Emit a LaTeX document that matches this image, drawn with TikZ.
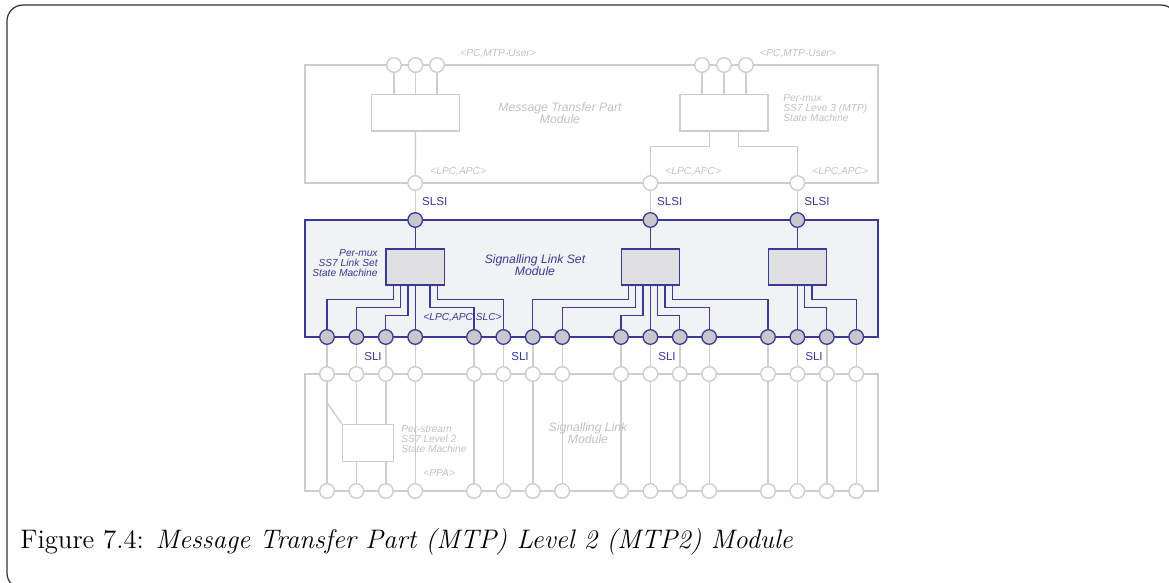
\documentclass[tikz,border=0pt]{standalone}
\usepackage{fontspec}
\usetikzlibrary{calc,positioning}
\newfontfamily\helv{Liberation Sans}

\definecolor{lgrey}{RGB}{206,206,206}
\definecolor{tgrey}{RGB}{194,194,194}
\definecolor{mblue}{RGB}{58,58,150}
\definecolor{mfill}{RGB}{241,242,244}
\definecolor{pfill}{RGB}{200,200,204}
\definecolor{bfill}{RGB}{224,224,226}

\tikzset{
    gline/.style={draw=lgrey, line width=0.7pt},
    bline/.style={draw=mblue, line width=0.65pt},
    gport/.style={circle, draw=lgrey, fill=white, line width=0.7pt, minimum size=7.3pt, inner sep=0pt},
    bport/.style={circle, draw=mblue, fill=pfill, line width=0.65pt, minimum size=7.3pt, inner sep=0pt},
    gbox/.style={draw=lgrey, fill=white, line width=0.7pt, inner sep=0pt},
    bbox/.style={draw=mblue, fill=bfill, line width=0.65pt, inner sep=0pt, minimum width=29.2pt, minimum height=17.9pt},
    glabel/.style={inner sep=0pt, text=tgrey, font=\helv\itshape\fontsize{5.1}{5}\selectfont},
    gtitle/.style={inner sep=0pt, text=tgrey, align=center, font=\helv\itshape\fontsize{6.1}{5.9}\selectfont},
    blabel/.style={inner sep=0pt, text=mblue, font=\helv\itshape\fontsize{5.1}{5}\selectfont},
    btitle/.style={inner sep=0pt, text=mblue, align=center, font=\helv\itshape\fontsize{6.1}{5.9}\selectfont},
    iface/.style={inner sep=0pt, text=mblue, font=\helv\fontsize{5.8}{6}\selectfont},
    capt/.style={inner sep=0pt, font=\fontsize{13.4}{15}\selectfont}
}

\begin{document}
\begin{tikzpicture}[x=0.5pt, y=-0.5pt]
    \def\u{29.4}
    \useasboundingbox (0,0) rectangle (1169,583);
    \draw[black!80, line width=0.6pt, rounded corners=8pt] (7,5) rectangle (1177,589);

    % MTP module
    \draw[gline] (305,65) rectangle (878,183);
    \foreach \i/\x in {1/394,2/415.5,3/437,4/702,5/724,6/746}
        \node[gport] (u\i) at (\x,65) {};
    \node[gbox, minimum width=44pt, minimum height=18.4pt] (mtpa) at (415.5,112.7) {};
    \node[gbox, minimum width=44pt, minimum height=18.4pt] (mtpb) at (724,112.7) {};
    \node[gport] (ma) at ({327+3*\u},183) {};
    \node[gport] (mb) at ({327+11*\u},183) {};
    \node[gport] (mc) at ({327+16*\u},183) {};
    \foreach \i in {1,2,3}
        \draw[gline] (u\i) -- (u\i |- mtpa.north);
    \foreach \i in {4,5,6}
        \draw[gline] (u\i) -- (u\i |- mtpb.north);
    \draw[gline] (mtpa) -- (ma);
    \draw[gline] ($(mtpb.south)+(-14.5,0)$) -- ++(0,14.7) -| (mb);
    \draw[gline] ($(mtpb.south)+(14.5,0)$) -- ++(0,14.7) -| (mc);

    \node[glabel, anchor=west] (pcu1) at (460,54) {<PC,MTP-User>};
    \node[glabel, anchor=west] (pcu2) at (760,54) {<PC,MTP-User>};
    \node[glabel, anchor=west] (lpc1) at (430,172) {<LPC,APC>};
    \node[glabel, anchor=west] (lpc2) at (665,172) {<LPC,APC>};
    \node[glabel, anchor=west] (lpc3) at (812,172) {<LPC,APC>};
    \node[gtitle] (mtpt) at (560,113) {Message Transfer Part\\Module};
    \node[glabel, anchor=west, align=left] (l3sm) at (783,108) {Per-mux\\SS7 Leve 3 (MTP)\\State Machine};

    % signalling link set module
    \draw[bline, fill=mfill] (305,220) rectangle (878,337);
    \node[bport] (s1) at ({327+3*\u},220) {};
    \node[bport] (s2) at ({327+11*\u},220) {};
    \node[bport] (s3) at ({327+16*\u},220) {};
    \draw[gline] (ma) -- (s1);
    \draw[gline] (mb) -- (s2);
    \draw[gline] (mc) -- (s3);
    \node[bbox] (lsa) at ({327+3*\u},267) {};
    \node[bbox] (lsb) at ({327+11*\u},267) {};
    \node[bbox] (lsc) at ({327+16*\u},267) {};
    \draw[bline] (s1) -- (lsa);
    \draw[bline] (s2) -- (lsb);
    \draw[bline] (s3) -- (lsc);
    \foreach \k in {0,1,2,3,5,6,7,8,10,11,12,13,15,16,17,18}
        \node[bport] (sl\k) at ({327+\k*\u},337) {};
    \foreach \b/\j/\k/\y in {lsa/-3/0/299.3, lsa/-2/1/307.3, lsa/-1/2/315, lsa/0/3/315,
                             lsa/2/5/307.3, lsa/3/6/299.3,
                             lsb/-3/7/299.3, lsb/-2/8/307.3, lsb/-1/10/315, lsb/0/11/315,
                             lsb/1/12/315, lsb/2/13/307.3, lsb/3/15/299.3,
                             lsc/0/16/315, lsc/1/17/307.3, lsc/2/18/299.3}
        \draw[bline] ($(\b.south)+(\j*7.35,0)$) -- ++(0,\y-285) -| (sl\k);

    \node[blabel, anchor=east, align=right] (lssm) at (378,262.7) {Per-mux\\SS7 Link Set\\State Machine};
    \node[btitle] (lst) at (535,265) {Signalling Link Set\\Module};
    \node[blabel, anchor=west] (slc) at (423,318) {<LPC,APC,SLC>};
    \foreach \i/\x in {1/421.7,2/656.7,3/804}
        \node[iface, anchor=west] (slsi\i) at (\x,202) {SLSI};
    \foreach \i/\x in {1/373,2/520,3/667,4/814}
        \node[iface] (sli\i) at (\x,356.7) {SLI};

    % signalling link module
    \draw[gline] (305,374) rectangle (878,491);
    \node[gbox, minimum width=25.5pt, minimum height=18.7pt] (l2) at (367.8,443) {};
    \foreach \k in {0,1,2,3,5,6,7,8,10,11,12,13,15,16,17,18}{
        \node[gport] (pt\k) at ({327+\k*\u},374) {};
        \node[gport] (pb\k) at ({327+\k*\u},491) {};
        \draw[gline] (sl\k) -- (pt\k);
    }
    \foreach \k in {0,3,5,6,7,8,10,11,12,13,15,16,17,18}
        \draw[gline] (pt\k) -- (pb\k);
    \foreach \k in {1,2}{
        \draw[gline] (pt\k) -- (pt\k |- l2.north);
        \draw[gline] (pb\k) -- (pb\k |- l2.south);
    }
    \draw[gline] ($(pt0)+(0,28.7)$) -- (l2.north west);

    \node[glabel, anchor=west, align=left] (l2sm) at (401,438.7) {Per-stream\\SS7 Level 2\\State Machine};
    \node[glabel, anchor=west] (ppa) at (423,473.3) {<PPA>};
    \node[gtitle] (slt) at (588,433) {Signalling Link\\Module};

    \node[capt, anchor=base west] (cap) at (20,548) {Figure 7.4: \textit{Message Transfer Part (MTP) Level 2 (MTP2) Module}};
\end{tikzpicture}
\end{document}
